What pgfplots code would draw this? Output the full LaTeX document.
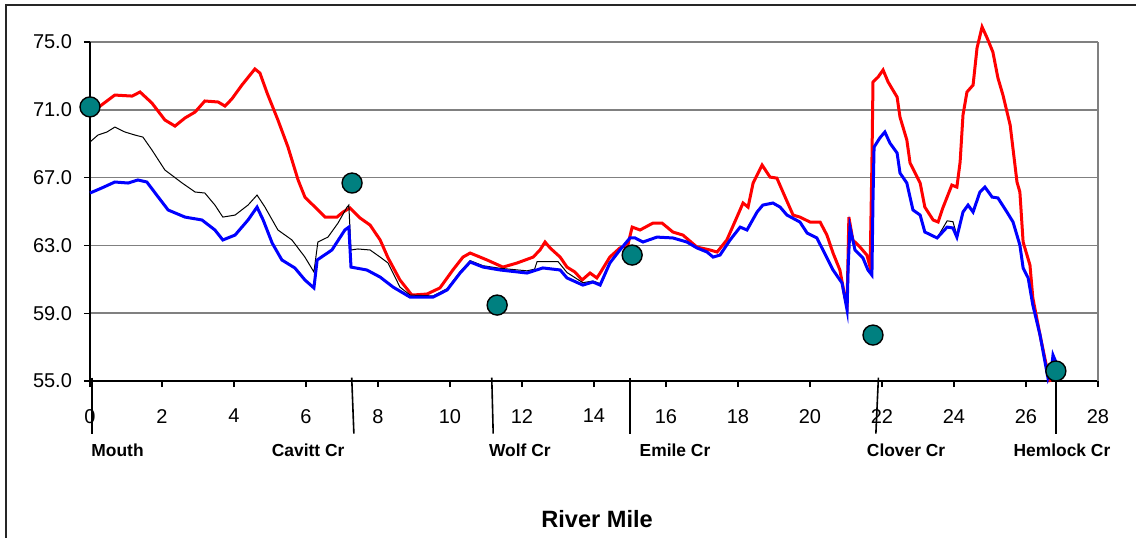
\documentclass[border=0pt]{standalone}
\usepackage{pgfplots}
\pgfplotsset{compat=1.18}
\usepackage{pgfplotstable}
\usepackage{fontspec}
\setmainfont{Liberation Sans}

% Temperature profiles along the river (river mile, temperature)
\pgfplotstableread{
x y
0.00 71.10
0.28 71.22
0.69 71.87
1.17 71.81
1.39 72.05
1.72 71.40
2.08 70.40
2.36 70.04
2.64 70.52
2.92 70.87
3.19 71.52
3.56 71.46
3.75 71.22
3.94 71.64
4.22 72.46
4.58 73.41
4.72 73.17
4.92 71.99
5.22 70.40
5.50 68.80
5.78 66.86
5.97 65.85
6.25 65.26
6.53 64.67
6.86 64.67
7.03 64.97
7.22 65.21
7.50 64.62
7.78 64.20
8.06 63.32
8.28 62.26
8.61 60.96
8.94 60.07
9.36 60.13
9.72 60.49
10.08 61.55
10.36 62.31
10.56 62.55
11.03 62.14
11.47 61.72
11.86 61.96
12.31 62.31
12.50 62.73
12.64 63.20
12.78 62.85
13.06 62.31
13.25 61.72
13.47 61.43
13.67 60.96
13.89 61.37
14.08 61.08
14.17 61.37
14.44 62.31
14.72 62.85
14.94 63.02
15.06 64.08
15.28 63.91
15.64 64.32
15.89 64.32
16.19 63.79
16.47 63.61
16.86 62.90
17.22 62.73
17.42 62.61
17.69 63.32
17.97 64.67
18.14 65.50
18.28 65.26
18.42 66.68
18.67 67.74
18.89 67.03
19.08 66.97
19.31 65.85
19.53 64.79
19.72 64.67
20.00 64.38
20.28 64.38
20.47 63.61
20.64 62.55
20.83 61.55
20.97 59.95
21.03 59.60
21.08 64.67
21.19 63.32
21.39 62.90
21.58 62.43
21.67 61.72
21.72 67.86
21.75 72.64
21.89 72.93
22.03 73.35
22.17 72.64
22.42 71.75
22.50 70.57
22.69 69.22
22.78 67.86
23.06 66.68
23.19 65.26
23.42 64.50
23.56 64.38
23.69 65.21
23.94 66.56
24.08 66.44
24.17 67.92
24.25 70.69
24.36 72.05
24.53 72.46
24.64 74.65
24.78 75.89
24.92 75.24
25.08 74.41
25.22 72.88
25.36 71.87
25.56 70.10
25.75 66.74
25.83 66.15
25.92 63.20
26.11 61.84
26.19 59.90
26.39 57.71
26.58 55.77
26.67 54.94
}\redT

\pgfplotstableread{
x y
0.00 66.09
0.33 66.39
0.69 66.74
1.06 66.68
1.33 66.86
1.58 66.74
1.81 66.09
2.17 65.09
2.64 64.67
3.11 64.50
3.47 63.91
3.69 63.32
4.03 63.61
4.39 64.50
4.64 65.26
4.81 64.50
5.06 63.14
5.33 62.14
5.69 61.67
5.97 60.96
6.22 60.49
6.31 62.14
6.72 62.73
7.08 63.91
7.19 64.08
7.25 61.72
7.69 61.55
8.06 61.13
8.42 60.54
8.89 59.95
9.53 59.95
9.92 60.37
10.28 61.37
10.56 62.02
10.92 61.72
11.39 61.55
12.14 61.37
12.58 61.67
13.06 61.55
13.25 61.08
13.69 60.66
13.97 60.84
14.17 60.66
14.44 61.96
14.72 62.73
15.00 63.44
15.14 63.44
15.36 63.20
15.75 63.49
16.19 63.44
16.58 63.20
16.86 62.85
17.14 62.61
17.31 62.31
17.50 62.43
17.78 63.32
18.06 64.08
18.25 63.91
18.53 64.97
18.69 65.38
18.97 65.50
19.17 65.26
19.36 64.79
19.72 64.38
19.92 63.73
20.19 63.44
20.36 62.73
20.64 61.55
20.89 60.78
21.03 59.19
21.06 61.72
21.11 64.08
21.25 62.73
21.47 62.26
21.61 61.55
21.72 61.25
21.75 65.68
21.78 68.80
21.94 69.34
22.08 69.69
22.22 69.04
22.42 68.45
22.50 67.27
22.69 66.68
22.86 65.09
23.06 64.79
23.19 63.79
23.53 63.44
23.81 64.08
23.97 64.03
24.08 63.49
24.25 64.97
24.39 65.38
24.53 64.97
24.72 66.15
24.86 66.44
25.06 65.85
25.22 65.80
25.47 64.97
25.64 64.38
25.83 63.02
25.92 61.67
26.06 61.08
26.19 59.48
26.39 57.71
26.61 55.18
26.72 55.94
26.75 56.53
26.83 56.12
}\blueT

\pgfplotstableread{
x y
0.00 69.10
0.22 69.51
0.47 69.69
0.69 69.98
0.97 69.69
1.25 69.51
1.47 69.39
1.72 68.63
2.08 67.45
2.56 66.68
2.92 66.15
3.19 66.09
3.47 65.38
3.69 64.67
4.03 64.79
4.39 65.38
4.64 65.97
4.86 65.26
5.22 63.91
5.61 63.32
5.97 62.31
6.22 61.43
6.33 63.20
6.61 63.49
6.89 64.32
7.14 65.26
7.19 65.38
7.25 62.73
7.44 62.79
7.78 62.73
8.06 62.31
8.28 61.96
8.61 60.54
8.89 60.07
9.53 60.02
9.92 60.45
10.28 61.45
10.56 62.10
10.92 61.80
11.39 61.65
12.14 61.50
12.35 61.60
12.42 62.05
13.00 62.05
13.25 61.40
13.69 60.80
13.97 60.90
14.17 60.75
14.44 61.96
14.72 62.73
15.00 63.44
15.14 63.44
15.36 63.20
15.75 63.49
16.19 63.44
16.58 63.20
16.86 62.85
17.14 62.61
17.31 62.31
17.50 62.43
17.78 63.32
18.06 64.08
18.25 63.91
18.53 64.97
18.69 65.38
18.97 65.50
19.17 65.26
19.36 64.79
19.72 64.38
19.92 63.73
20.19 63.44
20.36 62.73
20.64 61.55
20.89 60.78
21.03 59.19
21.06 61.72
21.11 64.08
21.25 62.73
21.47 62.26
21.61 61.55
21.72 61.25
21.75 65.68
21.78 68.80
21.94 69.34
22.08 69.69
22.22 69.04
22.42 68.45
22.50 67.27
22.69 66.68
22.86 65.09
23.06 64.79
23.19 63.79
23.53 63.44
23.81 64.45
23.97 64.40
24.08 63.60
24.25 64.97
24.39 65.38
24.53 64.97
24.72 66.15
24.86 66.44
25.06 65.85
25.22 65.80
25.47 64.97
25.64 64.38
25.83 63.02
25.92 61.67
26.06 61.08
26.19 59.48
26.39 57.71
26.61 55.18
26.72 55.94
26.75 56.53
26.83 56.12
}\blackT

% Measured temperatures at tributary confluences
\pgfplotstableread{
x y
0.00 71.17
7.28 66.68
11.31 59.48
15.06 62.43
21.75 57.71
26.83 55.59
}\obsT

\tikzset{trib/.style={font=\bfseries\fontsize{8.7}{10}\selectfont, inner sep=0pt}}

\begin{document}
\begin{tikzpicture}
\begin{axis}[
  at={(0,0)}, anchor=south west,
  scale only axis, width=504pt, height=169.5pt,
  xmin=0, xmax=28, ymin=55, ymax=75,
  xtick={0,2,...,28}, ytick={55,59,...,75},
  axis x line*=bottom, axis y line*=left,
  axis line style={black, line width=0.7pt},
  tick align=outside, major tick length=3pt,
  tick style={black, line width=0.6pt},
  ymajorgrids, grid style={gray, line width=0.8pt},
  clip=false,
  /pgf/number format/assume math mode=true,
  ticklabel style={font=\fontsize{10}{12}\selectfont},
  yticklabel style={/pgf/number format/.cd, fixed, fixed zerofill, precision=1, /tikz/.cd, xshift=-2.5pt},
  xticklabel style={yshift=-7.5pt},
  xlabel={River Mile},
  xlabel style={font=\bfseries\fontsize{11.8}{14}\selectfont, at={(axis description cs:0.503,-0.407)}, anchor=center},
]
\draw[gray, line width=0.8pt] (axis cs:28,55) -- (axis cs:28,75);

\addplot[red, line width=1.5pt] table {\redT};
\addplot[black, line width=0.5pt] table {\blackT};
\addplot[blue, line width=1.5pt] table {\blueT};

% tributary markers below the axis
\draw[black, line width=0.8pt] (axis cs:0.06,55.2) -- (axis cs:0.06,51.9);
\draw[black, line width=0.8pt] (axis cs:7.27,55.2) -- (axis cs:7.33,51.9);
\draw[black, line width=0.8pt] (axis cs:11.16,55.2) -- (axis cs:11.2,51.9);
\draw[black, line width=0.8pt] (axis cs:15.0,55.2) -- (axis cs:15.0,51.9);
\draw[black, line width=0.8pt] (axis cs:21.90,55.2) -- (axis cs:21.83,51.9);
\draw[black, line width=0.8pt] (axis cs:26.83,55.6) -- (axis cs:26.83,51.9);

\node[trib, anchor=west] at (axis cs:0.03,50.93) {Mouth};
\node[trib] at (axis cs:6.06,50.93) {Cavitt Cr};
\node[trib] at (axis cs:11.94,50.93) {Wolf Cr};
\node[trib] at (axis cs:16.25,50.93) {Emile Cr};
\node[trib] at (axis cs:22.67,50.93) {Clover Cr};
\node[trib] at (axis cs:27.0,50.93) {Hemlock Cr};

\addplot[only marks, mark=*, mark size=5pt,
  mark options={fill=teal, draw=black, line width=0.7pt}] table {\obsT};
\end{axis}
\path[use as bounding box] (-45pt,-78pt) rectangle (523pt,190.5pt);
\draw[black!85, line width=0.6pt] (-42pt,-90pt) -- (-42pt,188pt) -- (530pt,188pt);
\end{tikzpicture}
\end{document}
